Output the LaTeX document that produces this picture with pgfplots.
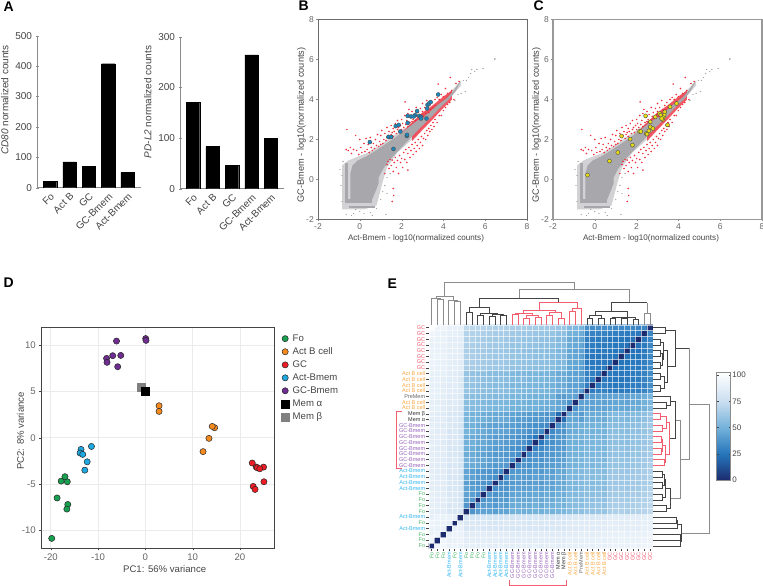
\documentclass[border=0pt]{standalone}
\usepackage{pgfplots}
\usepackage{pgfplotstable}
\usepackage{fontspec}
\setmainfont{Liberation Sans}
\pgfplotsset{compat=1.18}
\definecolor{cfo}{HTML}{4CB56C}\definecolor{cab}{HTML}{F7A540}\definecolor{cgc}{HTML}{F05A6E}
\definecolor{cam}{HTML}{30B5F0}\definecolor{cgm}{HTML}{9560B8}\definecolor{cmm}{HTML}{333333}\definecolor{cpm}{HTML}{666666}
\definecolor{ptfo}{HTML}{16A050}\definecolor{ptab}{HTML}{F58A1F}\definecolor{ptgc}{HTML}{EE1C25}\definecolor{ptam}{HTML}{1EA7E0}\definecolor{ptgm}{HTML}{6F2C91}
\definecolor{ptred}{HTML}{F0303F}\definecolor{cld}{HTML}{A8A8AC}\definecolor{hal}{HTML}{D2D2D4}\definecolor{blm}{HTML}{1B87C0}\definecolor{ylm}{HTML}{E8DC10}
\definecolor{txg}{HTML}{666666}\definecolor{dk}{HTML}{444444}\definecolor{gy}{HTML}{8C8C8C}\definecolor{rd}{HTML}{F2606F}
\newcommand{\fs}[1]{\fontsize{#1}{#1}\selectfont}
\newcommand{\LF}{\textcolor{cfo}{Fo}}\newcommand{\LAM}{\textcolor{cam}{Act-Bmem}}\newcommand{\LGM}{\textcolor{cgm}{GC-Bmem}}
\newcommand{\LMa}{\textcolor{cmm}{Mem α}}\newcommand{\LMb}{\textcolor{cmm}{Mem β}}\newcommand{\LAB}{\textcolor{cab}{Act B cell}}
\newcommand{\LP}{\textcolor{cpm}{PreMem}}\newcommand{\LG}{\textcolor{cgc}{GC}}
\pgfplotsset{place/.style n args={4}{at={(#1pt,#2pt)},anchor=south west,scale only axis,width=#3pt,height=#4pt,/pgf/number format/assume math mode=true},
 barax/.style={axis lines=left,axis line style={-,draw=gy,line width=0.8pt},ybar,bar width=13.3pt,xtick={0,1,2,3,4},
  xticklabels={Fo,Act B,GC,GC-Bmem,Act-Bmem},x tick label style={rotate=45,anchor=north east,font=\fs{10},text=dk,inner sep=1pt},
  y tick label style={font=\fs{10},text=dk},ylabel style={font=\fs{10},text=dk},major x tick style={draw=none},tick style={draw=gy},major tick length=3pt,ytick pos=left,xtick pos=bottom},
 scat/.style={xmin=-2,xmax=8,ymin=-2,ymax=8,xtick={-2,0,...,8},ytick={-2,0,...,8},tick align=outside,major tick length=2pt,tick style={draw=gy},
  tick label style={font=\fs{8.5},text=txg},xtick pos=bottom,ytick pos=left,
  xlabel={Act-Bmem - log10(normalized counts)},ylabel={GC-Bmem - log10(normalized counts)},
  xlabel style={font=\fs{8.1},text=dk,yshift=1pt,xshift=-6.5pt},ylabel style={font=\fs{9.2},text=dk,at={(ticklabel cs:0.4725)},yshift=-5pt},x tick label style={inner sep=2pt},y tick label style={inner sep=2pt}},
 ln/.style={no marks,sharp plot,line join=miter}
}
\pgfplotstableread[row sep=crcr]{x y\\
-0.62 2.5\\-0.65 1.5\\-0.55 1.45\\-0.45 1.6\\-0.4 1.3\\-0.3 1.5\\-0.2 2.2\\-0.15 1.45\\-0.05 1.25\\0.0 2.0\\0.05 1.6\\0.1 1.35\\0.2 1.8\\0.25 1.4\\0.3 2.05\\0.35 1.5\\0.4 1.75\\0.45 1.35\\0.5 2.1\\0.55 1.6\\0.6 1.45\\0.65 1.8\\0.7 1.55\\0.75 2.0\\0.8 1.7\\0.85 2.25\\0.9 1.65\\0.95 1.9\\1.0 1.75\\1.0 2.2\\1.05 2.45\\1.1 1.8\\1.15 2.0\\1.2 2.3\\1.25 1.95\\1.3 2.6\\1.3 2.1\\1.35 2.2\\1.4 2.4\\1.45 2.05\\1.5 2.25\\1.5 2.7\\1.55 2.35\\1.6 2.15\\1.6 2.55\\1.65 2.4\\1.7 2.8\\1.75 2.3\\1.8 2.5\\1.8 2.95\\1.85 2.6\\1.9 2.35\\1.95 2.7\\2.0 2.5\\2.0 3.0\\2.05 2.8\\2.1 2.6\\2.15 3.2\\2.17 3.88\\2.2 2.75\\2.25 2.95\\2.3 2.65\\2.3 3.3\\2.35 3.5\\2.4 2.85\\2.45 3.1\\2.5 2.9\\2.5 3.4\\2.55 3.0\\2.6 3.25\\2.65 2.95\\2.7 3.6\\2.75 3.15\\2.8 3.35\\2.85 3.05\\2.9 3.55\\2.95 3.25\\3.0 3.8\\3.0 3.4\\3.05 3.15\\3.1 3.6\\3.15 3.3\\3.2 3.95\\3.25 3.5\\3.3 3.35\\3.35 3.7\\3.4 3.5\\3.45 3.85\\3.5 3.6\\3.6 4.0\\3.6 3.7\\3.7 4.1\\3.75 4.77\\3.8 4.0\\3.9 4.25\\4.0 4.15\\4.1 4.55\\4.2 4.3\\4.33 5.1\\4.4 4.45\\4.6 4.8\\4.75 4.9\\
1.2 0.3\\1.3 0.75\\1.35 0.9\\1.4 0.55\\1.45 1.0\\1.5 0.7\\1.55 0.97\\1.6 0.4\\1.6 -0.45\\1.62 -0.8\\1.55 -1.1\\1.65 0.85\\1.7 1.1\\1.75 0.6\\1.8 0.95\\1.85 0.3\\1.9 1.2\\1.95 0.85\\2.0 1.05\\2.05 0.6\\2.1 1.35\\2.15 1.0\\2.2 1.5\\2.25 0.85\\2.3 0.47\\2.3 1.3\\2.35 1.6\\2.4 1.1\\2.45 1.45\\2.5 1.75\\2.55 1.25\\2.6 1.55\\2.65 1.85\\2.7 1.4\\2.75 1.7\\2.8 2.0\\2.85 1.55\\2.9 1.85\\2.95 2.15\\3.0 1.7\\3.05 2.05\\3.1 2.3\\3.15 2.0\\3.2 2.45\\3.25 2.2\\3.3 2.55\\3.35 2.4\\3.4 2.7\\3.45 2.5\\3.5 2.85\\3.55 2.65\\3.6 3.0\\3.7 2.85\\3.8 3.2\\3.9 3.2\\4.0 3.45\\4.1 3.6\\4.2 3.75\\4.3 3.85\\4.5 4.0\\
}\redtab
\pgfplotstableread[row sep=crcr]{x y\\
4.95 4.95\\5.05 4.4\\5.1 4.95\\5.2 5.1\\5.3 5.3\\5.35 5.5\\5.5 5.4\\5.6 5.5\\5.9 5.55\\6.45 6.0\\6.47 6.05\\4.7 4.25\\4.85 4.3\\4.55 3.95\\-0.85 -1.1\\-0.9 -0.3\\-0.95 0.5\\-0.8 0.9\\-0.85 0.2\\-0.3 -1.7\\-0.2 -1.5\\0 -1.6\\0.2 -1.7\\0.5 -1.65\\0.8 -1.45\\1.25 -1.75\\1.0 -1.0\\1.1 -0.6\\1.2 -0.3\\1.3 -0.7\\1.3 0.1\\1.45 0.3\\-0.65 -1.75\\-0.4 -1.8\\0.6 -1.8\\
}\graytab
\newcommand{\cloud}{%
 \addplot[fill=hal,draw=none] coordinates {(-0.85,-1.5)(-0.85,0.7)(-0.55,0.95)(-0.2,1.1)(0.3,1.3)(0.8,1.6)(1.4,2.05)(2.2,2.6)(3,3.3)(3.8,3.85)(4.4,4.45)(4.85,4.95)(4.85,4.7)(4.2,3.95)(3.3,3.0)(2.5,2.0)(1.8,1.35)(1.3,0.6)(1.1,-0.1)(0.95,-0.7)(0.8,-1.3)(0.2,-1.5)} --cycle;
 \addplot[fill=ptred,fill opacity=0.8,draw=none] coordinates {(2.0,2.35)(2.5,2.85)(3,3.35)(3.5,3.72)(4,4.15)(4.4,4.45)(4.4,4.2)(3.5,3.4)(2,2.1)} --cycle;
 \addplot[fill=ptred,fill opacity=0.8,draw=none] coordinates {(2.5,1.92)(3,2.48)(3.5,3.02)(4,3.58)(4.4,3.98)(4.4,4.2)(3.5,3.3)(3,2.7)(2.5,2.2)} --cycle;
 \addplot[fill=cld,draw=none] coordinates {(-0.45,-1.1)(-0.45,0.3)(-0.35,0.7)(-0.1,0.95)(0.3,1.15)(0.7,1.4)(1.2,1.75)(1.7,2.1)(2.2,2.5)(2.7,2.9)(3.2,3.25)(3.7,3.7)(4.2,4.1)(4.5,4.45)(4.75,4.85)(4.8,4.85)(4.6,4.45)(4.3,4.05)(3.9,3.65)(3.4,3.1)(2.9,2.6)(2.4,2.05)(1.9,1.5)(1.4,0.95)(1.1,0.5)(0.9,0.1)(0.9,-0.2)(0.75,-0.6)(0.55,-1.1)} --cycle;
 \addplot[fill=cld,draw=none] coordinates {(-0.72,-1.2)(-0.72,0.8)(-0.58,0.8)(-0.58,-1.2)} --cycle;
 \addplot[fill=cld,draw=none] coordinates {(-0.72,-1.2)(-0.72,-0.98)(0.6,-0.98)(0.6,-1.2)} --cycle;
 \addplot[fill=cld,draw=none] coordinates {(-0.5,-1.42)(-0.5,-1.34)(0.75,-1.34)(0.75,-1.42)} --cycle;
 \addplot[only marks,mark=*,mark size=0.4pt,color=black!35] table[x=x,y=y]{\graytab};
 \addplot[only marks,mark=*,mark size=0.55pt,color=ptred] table[x=x,y=y]{\redtab};
}
\begin{document}
\begin{tikzpicture}[x=1pt,y=1pt]
\useasboundingbox (0,0) rectangle (763,586);
% Panel A
\begin{axis}[place={37}{398.3}{104}{152},barax,xmin=-0.67,xmax=4.69,ymin=0,ymax=500,ytick={0,100,...,500},ylabel={\textit{CD80} normalized counts},ylabel style={at={(ticklabel cs:0.577)},yshift=0pt}]
\addplot[fill=black,draw=black,line width=0.3pt,bar shift=0pt] coordinates {(0,20)(1,85)(2,70)(3,408)(4,50)};
\end{axis}
\begin{axis}[place={180}{397.3}{104}{152},barax,xmin=-0.667,xmax=4.667,ymin=0,ymax=300,ytick={0,100,200,300},ylabel={\textit{PD-L2} normalized counts},ylabel style={at={(ticklabel cs:0.57)},yshift=0pt}]
\addplot[fill=black,draw=black,line width=0.3pt,bar shift=0pt] coordinates {(0,170)(1,83)(2,46)(3,264)(4,100)};
\end{axis}
% Panel B
\begin{axis}[place={318}{366.5}{209}{200},scat,axis line style={draw=black!58,line width=1pt}]
\cloud
\addplot[only marks,mark=*,mark size=2pt,mark options={draw=black!70,fill=blm,line width=0.4pt}] coordinates {(0.48,1.87)(1.61,1.53)(1.37,2.13)(1.5,2.13)(1.72,2.67)(1.86,2.73)(1.94,2.4)(2.25,2.18)(2.26,2.23)(2.29,2.83)(2.29,3.18)(2.45,3.15)(2.65,3.22)(2.58,3.15)(2.74,3.42)(2.84,3.18)(2.93,3.13)(2.93,3.05)(3.19,3.05)(3.22,3.55)(3.24,3.73)(3.31,3.8)(3.39,3.87)(3.75,4.25)};
\end{axis}
% Panel C
\begin{axis}[place={553}{366.5}{209}{200},scat,axis line style={draw=black!40,line width=1.2pt}]
\cloud
\addplot[only marks,mark=*,mark size=2pt,mark options={draw=black!70,fill=ylm,line width=0.4pt}] coordinates {(-0.35,0.22)(0.7,0.92)(1.1,1.35)(1.28,2.17)(1.69,2.02)(1.8,1.72)(2.14,2.4)(2.2,2.4)(2.46,2.3)(2.5,2.27)(2.59,2.43)(2.65,2.63)(2.78,2.55)(2.65,2.88)(2.43,3.18)(2.89,3.13)(3.1,3.3)(3.16,3.22)(3.35,3.38)(3.32,3.22)(3.27,3.1)(3.24,3.0)(3.2,3.05)(3.48,2.73)(3.6,3.63)(3.91,3.8)};
\end{axis}
% Panel D
\begin{axis}[place={41.3}{37.7}{232.7}{220.6},xmin=-22,xmax=27.2,ymin=-11.93,ymax=11.87,xtick={-20,-10,0,10,20},ytick={-10,-5,0,5,10},grid=major,grid style={draw=black!8,line width=0.6pt},
 axis line style={draw=dk,line width=0.9pt},tick align=outside,major tick length=2pt,tick style={draw=dk},xtick pos=bottom,ytick pos=left,tick label style={font=\fs{9.6},text=txg},
 xlabel={PC1: 56\% variance},ylabel={PC2: 8\% variance},label style={font=\fs{9.6},text=dk},xlabel style={yshift=2pt,xshift=7pt},ylabel style={at={(ticklabel cs:0.532)},yshift=-9pt},
 legend style={at={(1.03,0.975)},anchor=north west,draw=none,font=\fs{9.6},row sep=2.4pt,inner sep=0pt,fill=none,nodes={inner sep=1.2pt,inner xsep=3.5pt,text=dk}},legend cell align=left]
\pgfplotsset{pt/.style={only marks,mark=*,mark size=3.1pt,mark options={draw=black!85,line width=0.5pt,fill=#1}}}
\addplot[only marks,mark=square*,mark size=4pt,mark options={draw=gray,fill=gray},forget plot] coordinates {(-0.85,5.43)};
\addplot[pt=ptfo] coordinates {(-19.8,-10.86)(-18.66,-6.5)(-16.4,-7.2)(-16.6,-7.7)(-17.8,-4.68)(-16.5,-4.75)(-17,-4.2)};
\addlegendentry{Fo}
\addplot[pt=ptab] coordinates {(2.9,3.45)(2.9,2.84)(14.65,1.08)(14.15,1.22)(13.45,-0.07)(12.2,-1.5)};
\addlegendentry{Act B cell}
\addplot[pt=ptgc] coordinates {(22.6,-2.73)(25,-3.17)(23.45,-3.17)(23.66,-3.24)(24.2,-3.35)(25.07,-4.75)(22.8,-5.25)(23.2,-5.58)};
\addlegendentry{GC}
\addplot[pt=ptam] coordinates {(-13.6,-1.26)(-13.8,-1.65)(-13.24,-1.8)(-11.4,-0.94)(-12.3,-2.6)(-12.8,-3.5)};
\addlegendentry{Act-Bmem}
\addplot[pt=ptgm] coordinates {(-6.1,10.43)(0.07,10.7)(0.14,10.5)(-8.2,8.56)(-8.1,8.13)(-6.9,8.85)(-5.2,8.88)(-5.85,7.66)};
\addlegendentry{GC-Bmem}
\addplot[only marks,mark=square*,mark size=4pt,mark options={draw=black,fill=black}] coordinates {(0.07,5.07)};
\addlegendentry{Mem α}
\addlegendimage{only marks,mark=square*,mark size=4pt,mark options={draw=gray,fill=gray}}
\addlegendentry{Mem β}
\end{axis}
% Panel E heatmap
\begin{axis}[place={428.8}{37.4}{224.1}{223.8},xmin=-0.5,xmax=38.5,ymin=-0.5,ymax=38.5,axis line style={draw=none},axis on top,
 xtick={0,...,38},ytick={0,...,38},major tick length=2.5pt,tick align=outside,tick style={draw=dk,line width=0.4pt},xtick pos=bottom,ytick pos=left,
 minor xtick={-0.5,0.5,...,38.5},minor ytick={-0.5,0.5,...,38.5},minor tick length=0pt,minor grid style={draw=white,opacity=0.6,line width=0.45pt},xminorgrids=true,yminorgrids=true,
 tick label style={font=\fs{5.5}},x tick label style={rotate=90,anchor=east,inner sep=1pt},y tick label style={inner sep=1pt},
 xticklabels={\LF,\LF,\LF,\LAM,\LF,\LAM,\LF,\LF,\LF,\LF,\LAM,\LAM,\LAM,\LAM,\LGM,\LGM,\LGM,\LGM,\LGM,\LGM,\LGM,\LGM,\LMa,\LMb,\LAB,\LAB,\LP,\LAB,\LAB,\LAB,\LAB,\LG,\LG,\LG,\LG,\LG,\LG,\LG,\LG},
 yticklabels={\LF,\LF,\LF,\LAM,\LF,\LAM,\LF,\LF,\LF,\LF,\LAM,\LAM,\LAM,\LAM,\LGM,\LGM,\LGM,\LGM,\LGM,\LGM,\LGM,\LGM,\LMa,\LMb,\LAB,\LAB,\LP,\LAB,\LAB,\LAB,\LAB,\LG,\LG,\LG,\LG,\LG,\LG,\LG,\LG},
 colormap={blu}{rgb255(0pt)=(28,44,110);rgb255(25pt)=(38,118,188);rgb255(50pt)=(116,178,218);rgb255(75pt)=(202,222,240);rgb255(103pt)=(255,255,255)},
 point meta min=0,point meta max=103,colorbar,
 colorbar style={at={(1.2847,0.789)},anchor=north west,width=14pt,height=108pt,ytick={0,25,50,75,100},yticklabel pos=right,tick label style={font=\fs{8},text=dk,rotate=0,anchor=west,inner sep=1.5pt},
  xtick=\empty,minor tick length=0pt,xminorgrids=false,yminorgrids=false,major tick length=2pt,axis line style={draw=gy,line width=0.8pt},tick style={draw=dk},/pgf/number format/assume math mode=true}]
\addplot[matrix plot*,mesh/cols=39,point meta=explicit] table[row sep=crcr,header=false,x expr={mod(\coordindex,39)},y expr={floor(\coordindex/39)},meta index=0]{
0\\95\\96\\92\\93\\92\\89\\90\\89\\90\\89\\88\\90\\89\\88\\89\\89\\88\\90\\88\\89\\90\\88\\89\\90\\90\\91\\91\\90\\91\\90\\92\\93\\93\\92\\93\\92\\94\\95\\
95\\0\\95\\92\\92\\93\\88\\89\\88\\89\\88\\88\\87\\88\\87\\88\\88\\87\\88\\88\\87\\88\\88\\87\\90\\89\\90\\90\\90\\91\\90\\92\\92\\93\\92\\92\\92\\93\\94\\
96\\95\\0\\91\\93\\92\\87\\87\\88\\88\\87\\87\\88\\87\\86\\86\\87\\87\\86\\87\\87\\86\\87\\86\\88\\88\\89\\89\\88\\89\\90\\91\\91\\92\\91\\91\\92\\92\\94\\
92\\92\\91\\0\\90\\91\\83\\83\\84\\83\\82\\83\\82\\83\\82\\83\\83\\82\\83\\83\\82\\84\\83\\83\\85\\85\\86\\87\\86\\86\\87\\88\\89\\89\\88\\89\\88\\90\\91\\
93\\92\\93\\90\\0\\89\\83\\84\\83\\84\\83\\82\\83\\84\\83\\84\\83\\82\\84\\83\\84\\83\\84\\83\\85\\86\\86\\86\\87\\87\\86\\89\\88\\88\\89\\89\\88\\90\\91\\
92\\93\\92\\91\\89\\0\\81\\82\\81\\82\\80\\81\\80\\81\\80\\81\\81\\80\\82\\81\\80\\81\\81\\82\\83\\84\\85\\85\\84\\85\\85\\87\\87\\88\\87\\88\\88\\89\\90\\
89\\88\\87\\83\\83\\81\\0\\38\\42\\44\\44\\42\\45\\44\\49\\50\\48\\49\\50\\49\\51\\50\\52\\52\\56\\57\\58\\60\\60\\61\\60\\66\\67\\67\\66\\67\\68\\69\\72\\
90\\89\\87\\83\\84\\82\\38\\0\\40\\42\\42\\40\\43\\42\\47\\48\\47\\48\\49\\47\\50\\49\\51\\50\\55\\56\\57\\59\\59\\60\\59\\65\\66\\66\\65\\66\\67\\68\\71\\
89\\88\\88\\84\\83\\81\\42\\40\\0\\37\\40\\38\\41\\40\\46\\46\\45\\46\\47\\46\\48\\47\\50\\50\\55\\55\\56\\58\\58\\59\\58\\64\\65\\65\\64\\65\\66\\68\\70\\
90\\89\\88\\83\\84\\82\\44\\42\\37\\0\\40\\37\\40\\39\\44\\45\\44\\45\\46\\45\\47\\46\\49\\48\\54\\54\\56\\57\\57\\58\\57\\63\\64\\64\\63\\65\\65\\67\\69\\
89\\88\\87\\82\\83\\80\\44\\42\\40\\40\\0\\36\\38\\38\\42\\43\\42\\43\\44\\43\\45\\44\\47\\47\\53\\53\\55\\57\\56\\57\\56\\62\\63\\63\\62\\63\\64\\66\\68\\
88\\88\\87\\83\\82\\81\\42\\40\\38\\37\\36\\0\\35\\36\\40\\41\\40\\41\\42\\41\\44\\43\\46\\46\\52\\53\\54\\56\\55\\56\\56\\62\\62\\62\\62\\63\\63\\65\\67\\
90\\87\\88\\82\\83\\80\\45\\43\\41\\40\\38\\35\\0\\34\\41\\42\\41\\41\\43\\42\\44\\43\\47\\46\\53\\53\\55\\57\\56\\57\\56\\62\\63\\63\\62\\63\\64\\65\\68\\
89\\88\\87\\83\\84\\81\\44\\42\\40\\39\\38\\36\\34\\0\\39\\40\\39\\40\\41\\40\\43\\42\\46\\45\\52\\52\\54\\56\\55\\56\\55\\61\\62\\62\\61\\62\\63\\65\\67\\
88\\87\\86\\82\\83\\80\\49\\47\\46\\44\\42\\40\\41\\39\\0\\36\\38\\37\\40\\39\\41\\42\\43\\44\\50\\51\\52\\54\\53\\54\\54\\59\\60\\60\\59\\60\\61\\63\\66\\
89\\88\\86\\83\\84\\81\\50\\48\\46\\45\\43\\41\\42\\40\\36\\0\\35\\36\\38\\37\\40\\40\\42\\43\\50\\50\\52\\54\\53\\54\\53\\59\\60\\60\\59\\60\\61\\63\\65\\
89\\88\\87\\83\\83\\81\\48\\47\\45\\44\\42\\40\\41\\39\\38\\35\\0\\33\\37\\36\\39\\39\\42\\42\\50\\50\\51\\53\\53\\54\\53\\58\\59\\59\\58\\60\\60\\62\\65\\
88\\87\\87\\82\\82\\80\\49\\48\\46\\45\\43\\41\\41\\40\\37\\36\\33\\0\\30\\33\\37\\38\\40\\41\\49\\49\\51\\53\\52\\53\\52\\58\\59\\59\\58\\59\\60\\62\\64\\
90\\88\\86\\83\\84\\82\\50\\49\\47\\46\\44\\42\\43\\41\\40\\38\\37\\30\\0\\26\\35\\36\\39\\40\\49\\49\\50\\52\\52\\53\\52\\57\\58\\58\\57\\59\\59\\61\\64\\
88\\88\\87\\83\\83\\81\\49\\47\\46\\45\\43\\41\\42\\40\\39\\37\\36\\33\\26\\0\\34\\35\\39\\40\\48\\49\\50\\52\\51\\52\\51\\57\\58\\58\\57\\58\\59\\61\\64\\
89\\87\\87\\82\\84\\80\\51\\50\\48\\47\\45\\44\\44\\43\\41\\40\\39\\37\\35\\34\\0\\33\\38\\38\\47\\48\\49\\51\\50\\51\\51\\56\\57\\57\\56\\58\\58\\60\\63\\
90\\88\\86\\84\\83\\81\\50\\49\\47\\46\\44\\43\\43\\42\\42\\40\\39\\38\\36\\35\\33\\0\\37\\38\\47\\47\\49\\50\\50\\51\\50\\56\\56\\56\\56\\57\\58\\60\\63\\
88\\88\\87\\83\\84\\81\\52\\51\\50\\49\\47\\46\\47\\46\\43\\42\\42\\40\\39\\39\\38\\37\\0\\22\\45\\45\\42\\48\\47\\48\\47\\53\\54\\54\\53\\55\\55\\58\\61\\
89\\87\\86\\83\\83\\82\\52\\50\\50\\48\\47\\46\\46\\45\\44\\43\\42\\41\\40\\40\\38\\38\\22\\0\\45\\44\\41\\48\\47\\48\\47\\53\\54\\54\\53\\55\\55\\58\\61\\
90\\90\\88\\85\\85\\83\\56\\55\\55\\54\\53\\52\\53\\52\\50\\50\\50\\49\\49\\48\\47\\47\\45\\45\\0\\37\\44\\44\\43\\44\\44\\45\\46\\46\\45\\47\\47\\50\\54\\
90\\89\\88\\85\\86\\84\\57\\56\\55\\54\\53\\53\\53\\52\\51\\50\\50\\49\\49\\49\\48\\47\\45\\44\\37\\0\\43\\43\\43\\44\\43\\44\\45\\45\\44\\46\\46\\49\\53\\
91\\90\\89\\86\\86\\85\\58\\57\\56\\56\\55\\54\\55\\54\\52\\52\\51\\51\\50\\50\\49\\49\\42\\41\\44\\43\\0\\42\\41\\42\\42\\43\\44\\44\\43\\45\\45\\48\\52\\
91\\90\\89\\87\\86\\85\\60\\59\\58\\57\\57\\56\\57\\56\\54\\54\\53\\53\\52\\52\\51\\50\\48\\48\\44\\43\\42\\0\\28\\30\\30\\28\\27\\27\\28\\29\\29\\31\\36\\
90\\90\\88\\86\\87\\84\\60\\59\\58\\57\\56\\55\\56\\55\\53\\53\\53\\52\\52\\51\\50\\50\\47\\47\\43\\43\\41\\28\\0\\27\\29\\27\\26\\26\\27\\28\\28\\30\\35\\
91\\91\\89\\86\\87\\85\\61\\60\\59\\58\\57\\56\\57\\56\\54\\54\\54\\53\\53\\52\\51\\51\\48\\48\\44\\44\\42\\30\\27\\0\\26\\26\\26\\25\\26\\27\\27\\30\\35\\
90\\90\\90\\87\\86\\85\\60\\59\\58\\57\\56\\56\\56\\55\\54\\53\\53\\52\\52\\51\\51\\50\\47\\47\\44\\43\\42\\30\\29\\26\\0\\27\\26\\26\\27\\27\\28\\30\\35\\
92\\92\\91\\88\\89\\87\\66\\65\\64\\63\\62\\62\\62\\61\\59\\59\\58\\58\\57\\57\\56\\56\\53\\53\\45\\44\\43\\28\\27\\26\\27\\0\\24\\26\\26\\27\\26\\29\\34\\
93\\92\\91\\89\\88\\87\\67\\66\\65\\64\\63\\62\\63\\62\\60\\60\\59\\59\\58\\58\\57\\56\\54\\54\\46\\45\\44\\27\\26\\26\\26\\24\\0\\25\\25\\26\\26\\29\\33\\
93\\93\\92\\89\\88\\88\\67\\66\\65\\64\\63\\62\\63\\62\\60\\60\\59\\59\\58\\58\\57\\56\\54\\54\\46\\45\\44\\27\\26\\25\\26\\26\\25\\0\\24\\25\\25\\28\\33\\
92\\92\\91\\88\\89\\87\\66\\65\\64\\63\\62\\62\\62\\61\\59\\59\\58\\58\\57\\57\\56\\56\\53\\53\\45\\44\\43\\28\\27\\26\\27\\26\\25\\24\\0\\23\\24\\27\\33\\
93\\92\\91\\89\\89\\88\\67\\66\\65\\65\\63\\63\\63\\62\\60\\60\\60\\59\\59\\58\\58\\57\\55\\55\\47\\46\\45\\29\\28\\27\\27\\27\\26\\25\\23\\0\\23\\27\\32\\
92\\92\\92\\88\\88\\88\\68\\67\\66\\65\\64\\63\\64\\63\\61\\61\\60\\60\\59\\59\\58\\58\\55\\55\\47\\46\\45\\29\\28\\27\\28\\26\\26\\25\\24\\23\\0\\26\\31\\
94\\93\\92\\90\\90\\89\\69\\68\\68\\67\\66\\65\\65\\65\\63\\63\\62\\62\\61\\61\\60\\60\\58\\58\\50\\49\\48\\31\\30\\30\\30\\29\\29\\28\\27\\27\\26\\0\\32\\
95\\94\\94\\91\\91\\90\\72\\71\\70\\69\\68\\67\\68\\67\\66\\65\\65\\64\\64\\64\\63\\63\\61\\61\\54\\53\\52\\36\\35\\35\\35\\34\\33\\33\\33\\32\\31\\32\\0\\
};
\end{axis}
% Overlay in pixel coordinates: letters and top dendrogram
\begin{axis}[place={0}{0}{763}{586},xmin=0,xmax=763,ymin=0,ymax=586,y dir=reverse,hide axis,clip=false,unbounded coords=jump]
\addplot[ln,draw=gy,line width=0.9pt] coordinates {(431.7,325)(431.7,298)(440.3,298)(440.3,299)(nan,nan)(437.4,325)(437.4,299)(443.1,299)(443.1,325)(nan,nan)(454.6,325)(454.6,301.7)(460.4,301.7)(460.4,325)(nan,nan)(448.9,325)(448.9,300.7)(457.5,300.7)(457.5,301.7)(nan,nan)(436,298)(436,296)(453.2,296)(453.2,300.7)(nan,nan)(444.6,296)(444.6,282)(574,282)(574,289)(nan,nan)(519,298.3)(519,289)(629,289)(629,302.7)(nan,nan)(647,302.7)(647,313.3)(nan,nan)(644.3,325)(644.3,313.3)(650,313.3)(650,325)};
\addplot[ln,draw=dk,line width=0.6pt] coordinates {(466.1,325)(466.1,312.5)(471.8,312.5)(471.8,325)(nan,nan)(477.6,325)(477.6,315.5)(483.4,315.5)(483.4,325)(nan,nan)(489.1,325)(489.1,316.5)(494.9,316.5)(494.9,325)(nan,nan)(500.6,325)(500.6,315.5)(506.3,315.5)(506.3,325)(nan,nan)(492,316.5)(492,314.5)(503.45,314.5)(503.45,315.5)(nan,nan)(480.5,315.5)(480.5,313.5)(497.7,313.5)(497.7,314.5)(nan,nan)(469,312.5)(469,307.7)(489,307.7)(489,313.5)(nan,nan)(479,307.7)(479,298.3)(558,298.3)(558,302.3)(nan,nan)
(586.9,325)(586.9,318.3)(592.6,318.3)(592.6,325)(nan,nan)(598.3,325)(598.3,318.3)(604,318.3)(604,325)(nan,nan)(589.7,318.3)(589.7,315)(601.2,315)(601.2,318.3)(nan,nan)(595.5,315)(595.5,311.7)(627,311.7)(627,317)(nan,nan)(609.8,325)(609.8,318.3)(615.6,318.3)(615.6,325)(nan,nan)(621.3,325)(621.3,318.3)(627,318.3)(627,325)(nan,nan)(632.8,325)(632.8,319.3)(638.5,319.3)(638.5,325)(nan,nan)(612.7,318.3)(612.7,317.5)(624,317.5)(624,318.3)(nan,nan)(618,317.5)(618,317)(635.6,317)(635.6,319.3)(nan,nan)(611.7,311.7)(611.7,302.7)(647,302.7)};
\addplot[ln,draw=rd,line width=0.7pt] coordinates {(512.1,325)(512.1,314.3)(517.9,314.3)(517.9,325)(nan,nan)(523.6,325)(523.6,318.5)(529.4,318.5)(529.4,325)(nan,nan)(535.1,325)(535.1,317.5)(540.9,317.5)(540.9,325)(nan,nan)(526.5,318.5)(526.5,315.5)(538,315.5)(538,317.5)(nan,nan)(515,314.3)(515,313)(532.3,313)(532.3,315.5)(nan,nan)(546.6,325)(546.6,315.5)(552.4,315.5)(552.4,325)(nan,nan)(558.2,325)(558.2,318)(563.9,318)(563.9,325)(nan,nan)(549.5,315.5)(549.5,312.5)(561,312.5)(561,318)(nan,nan)(523.7,313)(523.7,310.5)(555.2,310.5)(555.2,312.5)(nan,nan)(539.5,310.5)(539.5,302.3)(577,302.3)(577,308.3)(nan,nan)(569.6,325)(569.6,311.7)(575.3,311.7)(575.3,325)(nan,nan)(572.5,311.7)(572.5,308.3)(581.1,308.3)(581.1,325)};
\addplot[ln,draw=rd,line width=0.7pt] coordinates {(402,411.7)(396.7,411.7)(396.7,468.3)(402,468.3)(nan,nan)(509.3,580)(509.3,585)(566.7,585)(566.7,580)};
\node[font=\bfseries\fs{14},anchor=west] at (axis cs:0,7) {A};
\node[font=\bfseries\fs{14},anchor=west] at (axis cs:295,6) {B};
\node[font=\bfseries\fs{14},anchor=west] at (axis cs:530,6) {C};
\node[font=\bfseries\fs{14},anchor=west] at (axis cs:0,283) {D};
\node[font=\bfseries\fs{14},anchor=west] at (axis cs:384,284) {E};
\end{axis}
% Overlay: right dendrogram
\begin{axis}[place={570}{0}{193}{296},xmin=0,xmax=579,ymin=0,ymax=888,y dir=reverse,hide axis,clip=false,unbounded coords=jump]
\addplot[ln,draw=dk,line width=0.6pt] coordinates {(248,113)(287,113)(287,130)(248,130)(nan,nan)(248,147.6)(270,147.6)(270,164.8)(248,164.8)(nan,nan)(248,182)(272,182)(272,199)(248,199)(nan,nan)(248,216)(272,216)(272,234)(248,234)(nan,nan)(248,251)(272,251)(272,268)(248,268)(nan,nan)(248,285)(272,285)(272,302.5)(248,302.5)(nan,nan)(272,190)(276,190)(276,225)(272,225)(nan,nan)(270,156)(279,156)(279,207)(276,207)(nan,nan)(272,259)(282,259)(282,294)(272,294)(nan,nan)(279,181)(293,181)(293,276)(282,276)(nan,nan)(287,121)(317,121)(317,228)(293,228)(nan,nan)(317,175)(357,175)(nan,nan)
(248,320)(300,320)(300,347)(290,347)(nan,nan)(248,337)(290,337)(290,354)(248,354)(nan,nan)(300,333)(317,333)(317,445)(297,445)(nan,nan)
(248,543.6)(278,543.6)(278,561)(248,561)(nan,nan)(248,578)(278,578)(278,595)(248,595)(nan,nan)(278,552)(282,552)(282,586)(278,586)(nan,nan)(248,612.6)(278,612.6)(278,630)(248,630)(nan,nan)(282,569)(285,569)(285,621)(278,621)(nan,nan)(248,647)(289,647)(289,664)(248,664)(nan,nan)(285,595)(302,595)(302,655)(289,655)(nan,nan)
(248,681.6)(320,681.6)(320,699)(248,699)(nan,nan)(320,690)(323,690)(323,716)(248,716)(nan,nan)(248,733)(330,733)(330,750.6)(248,750.6)(nan,nan)(330,741)(332,741)(332,767.7)(248,767.7)(nan,nan)(323,703)(335,703)(335,754)(332,754)};
\addplot[ln,draw=rd,line width=0.7pt] coordinates {(248,371)(272,371)(272,388.6)(248,388.6)(nan,nan)(248,406)(277,406)(277,423)(248,423)(nan,nan)(272,380)(290,380)(290,414)(277,414)(nan,nan)(290,397)(297,397)(297,492)(287,492)(nan,nan)(248,440)(275,440)(275,457.6)(248,457.6)(nan,nan)(248,474.7)(275,474.7)(275,492)(248,492)(nan,nan)(275,449)(277,449)(277,483)(275,483)(nan,nan)(248,509)(282,509)(282,526.5)(248,526.5)(nan,nan)(277,466)(287,466)(287,518)(282,518)};
\addplot[ln,draw=gy,line width=0.9pt] coordinates {(317,390)(330,390)(330,625)(302,625)(nan,nan)(330,507)(357,507)(357,175)(nan,nan)(357,342)(418,342)(418,730)(335,730)};
\end{axis}
\end{tikzpicture}
\end{document}
